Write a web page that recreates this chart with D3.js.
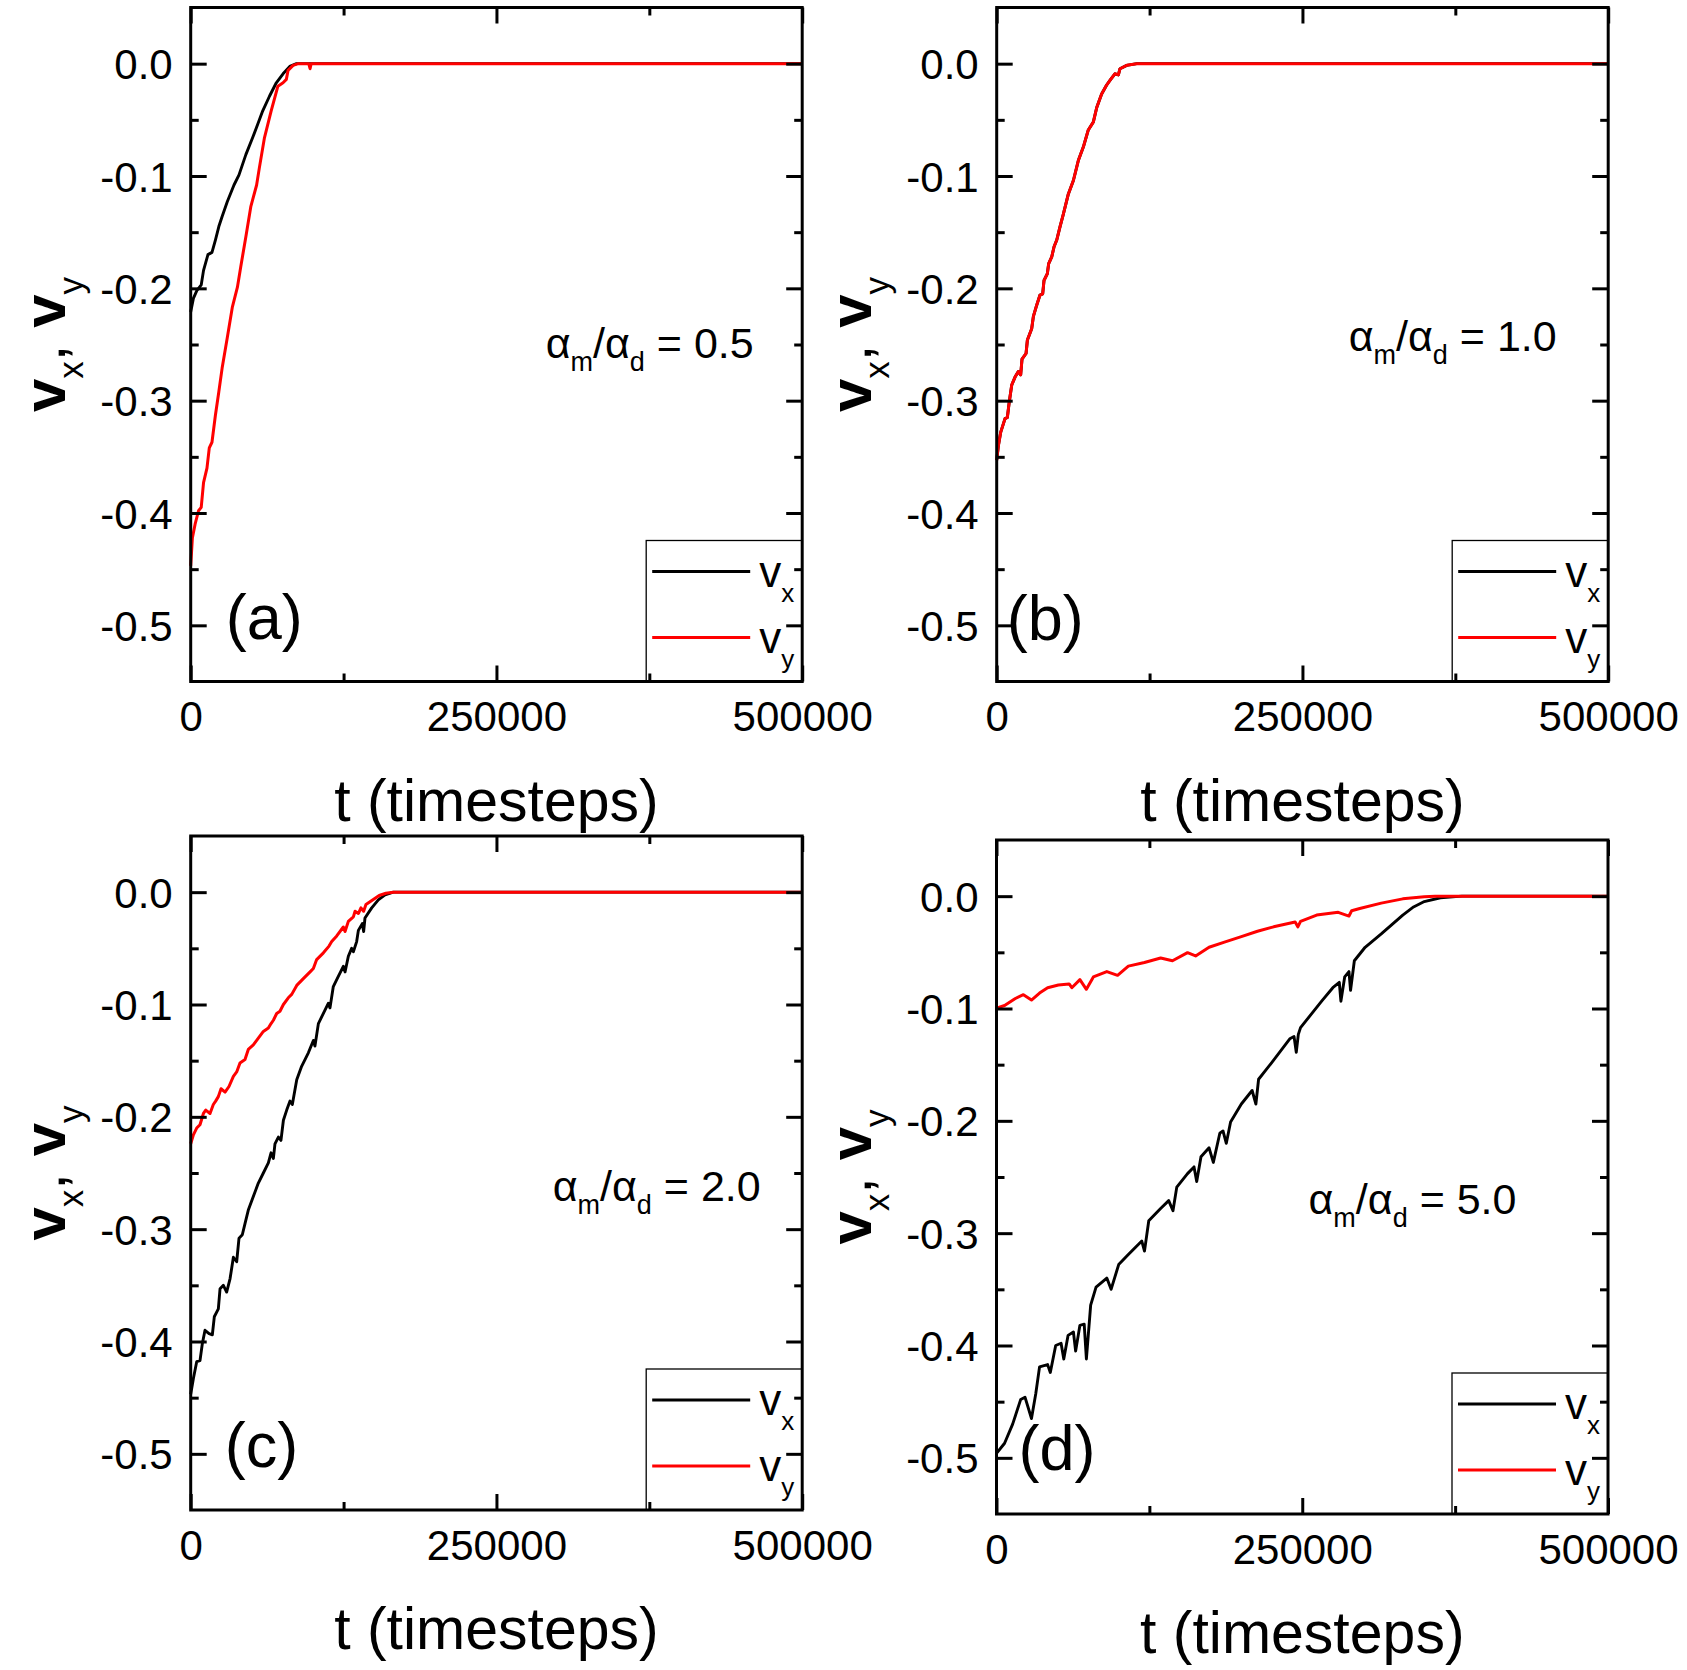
<!DOCTYPE html>
<html>
<head>
<meta charset="utf-8">
<script src="https://cdn.jsdelivr.net/npm/d3@7"></script>
<style>
  body { margin: 0; background: #fff; }
  text { font-family: "Liberation Sans", Arial, sans-serif; fill: #000; }
</style>
</head>
<body>
<div class="canvas"></div>
<script>
// tick values (t in thousands of timesteps)
const tMajor = [0, 250, 500];
const tMinor = [125, 375];
const vMajor = [0, -0.1, -0.2, -0.3, -0.4, -0.5];
const vMinor = [-0.05, -0.15, -0.25, -0.35, -0.45];
const panelLabels = ['(a)', '(b)', '(c)', '(d)'];
const ratios = ['0.5', '1.0', '2.0', '5.0'];

// series: [t (x1000), v]
const aVx = [[0,-0.221],[2.2,-0.209],[5,-0.202],[8.6,-0.197],[10.5,-0.184],[14.1,-0.17],[17.4,-0.168],[20.2,-0.157],[23,-0.145],[25.7,-0.136],[29.9,-0.123],[35.4,-0.108],[39.5,-0.099],[45.1,-0.081],[50.6,-0.066],[54.8,-0.054],[58.9,-0.042],[64.4,-0.029],[70,-0.017],[75.5,-0.009],[81,-0.0024],[86.5,0],[500,0]];
const aVy = [[0,-0.447],[1.4,-0.422],[3.6,-0.41],[6.4,-0.398],[8.6,-0.395],[10.5,-0.373],[13.3,-0.36],[15.2,-0.342],[17.4,-0.337],[20.2,-0.313],[23,-0.292],[25.7,-0.271],[29.9,-0.244],[34,-0.217],[38.2,-0.199],[40.9,-0.181],[45.1,-0.154],[49.2,-0.127],[53.9,-0.108],[56.1,-0.093],[60.3,-0.066],[65.8,-0.042],[71.3,-0.02],[75.5,-0.017],[78.2,-0.014],[79.6,-0.006],[83.7,-0.0015],[88,0],[96.5,0],[97.6,-0.0045],[98.5,0],[500,0]];
const bVy = [[0,-0.353],[1.4,-0.34],[3.3,-0.328],[6.8,-0.316],[8.7,-0.315],[10.4,-0.3],[12.3,-0.286],[15,-0.279],[17.7,-0.274],[19.6,-0.277],[20.7,-0.263],[24,-0.258],[25.1,-0.246],[28.6,-0.236],[30,-0.225],[32.7,-0.215],[35.4,-0.206],[37.6,-0.205],[38.7,-0.193],[41.4,-0.187],[42.5,-0.178],[45,-0.172],[46.9,-0.163],[49.1,-0.157],[51.8,-0.145],[54.5,-0.134],[58.6,-0.116],[62.7,-0.104],[66.8,-0.086],[70.9,-0.074],[74.9,-0.059],[79,-0.052],[81.8,-0.039],[85.8,-0.027],[89.9,-0.019],[93.2,-0.014],[96.7,-0.009],[99.5,-0.01],[100.8,-0.0045],[106.3,-0.0015],[114.5,0],[500,0]];
const bVx = bVy; // vx lies exactly under vy in (b)
const cVx = [[0,-0.447],[2.2,-0.433],[4.9,-0.418],[7.6,-0.417],[9.5,-0.402],[11.7,-0.39],[15,-0.393],[17.7,-0.394],[19.3,-0.378],[22.6,-0.371],[24,-0.353],[26.7,-0.35],[29.4,-0.356],[32.2,-0.344],[34.9,-0.325],[37.6,-0.329],[39.5,-0.308],[42.2,-0.305],[44.4,-0.295],[47.1,-0.283],[51.2,-0.271],[55.3,-0.259],[59.4,-0.25],[63.5,-0.241],[65.7,-0.232],[67.6,-0.237],[68.9,-0.224],[71.7,-0.218],[73.8,-0.221],[75.8,-0.203],[78.5,-0.194],[81.2,-0.186],[83.1,-0.189],[86.7,-0.167],[90.7,-0.155],[96.2,-0.143],[100.3,-0.132],[101.6,-0.137],[104.4,-0.117],[109.8,-0.105],[112.5,-0.099],[113.9,-0.103],[116.6,-0.084],[120.7,-0.075],[124.8,-0.066],[126.2,-0.071],[128.9,-0.057],[131.6,-0.05],[133,-0.053],[135.7,-0.044],[137.1,-0.034],[140.3,-0.028],[141.4,-0.035],[142.5,-0.023],[148,-0.014],[153.4,-0.0068],[158.9,-0.0024],[165.7,0],[500,0]];
const cVy = [[0,-0.224],[2.2,-0.216],[4.9,-0.21],[7.6,-0.207],[10.4,-0.197],[12.3,-0.194],[15.8,-0.197],[18.5,-0.189],[20.4,-0.186],[22.6,-0.182],[24.8,-0.175],[28.1,-0.178],[31.3,-0.173],[34.9,-0.164],[37.6,-0.16],[40.3,-0.152],[44.4,-0.149],[47.1,-0.14],[51.2,-0.136],[55.3,-0.13],[59.4,-0.124],[63.5,-0.121],[65.7,-0.117],[67.6,-0.114],[70.3,-0.108],[73,-0.106],[75.8,-0.1],[79.8,-0.094],[82.6,-0.091],[86.7,-0.083],[92.1,-0.077],[97.6,-0.071],[100.3,-0.068],[103,-0.06],[108.5,-0.054],[113.1,-0.048],[115.3,-0.044],[119.4,-0.039],[124.8,-0.031],[126.2,-0.035],[128.9,-0.026],[133,-0.022],[134.4,-0.017],[137.1,-0.019],[139.2,-0.014],[141.4,-0.017],[143.3,-0.011],[148.7,-0.007],[154.1,-0.003],[159.6,-0.001],[165.7,0],[500,0]];
const dVx = [[0,-0.496],[6.6,-0.487],[13.2,-0.47],[19.8,-0.448],[23.3,-0.446],[28.6,-0.465],[32.1,-0.443],[35.2,-0.419],[41.8,-0.417],[44,-0.424],[48.4,-0.4],[52.8,-0.398],[55,-0.412],[58.5,-0.391],[62.9,-0.388],[64.7,-0.405],[68.2,-0.382],[71.7,-0.381],[73.5,-0.412],[77,-0.364],[81.4,-0.348],[90.2,-0.34],[93.7,-0.35],[99.9,-0.328],[107.8,-0.319],[118.8,-0.307],[121,-0.316],[124.5,-0.289],[134.2,-0.278],[140.8,-0.271],[144.3,-0.28],[147.4,-0.259],[156.2,-0.247],[161.5,-0.241],[163.7,-0.254],[167.2,-0.232],[173.8,-0.224],[177.3,-0.237],[182.6,-0.211],[185.2,-0.209],[187.9,-0.22],[191.4,-0.201],[200.2,-0.185],[209,-0.173],[212.1,-0.185],[214.3,-0.163],[226.6,-0.146],[239.8,-0.127],[243.3,-0.125],[245.1,-0.139],[246.8,-0.123],[248.6,-0.117],[257.4,-0.105],[266.2,-0.093],[275,-0.0815],[280.3,-0.0767],[281.6,-0.0935],[284.7,-0.0719],[288.2,-0.0671],[289.5,-0.0839],[292.6,-0.0575],[301.4,-0.0455],[314.6,-0.0336],[332.2,-0.0168],[341,-0.0096],[349.8,-0.0048],[363,-0.0014],[380.6,0],[500,0]];
const dVy = [[0,-0.0997],[6.6,-0.0973],[15.4,-0.0911],[22,-0.0877],[28.6,-0.0925],[35.2,-0.0863],[41.8,-0.0815],[50.6,-0.0791],[59.4,-0.0781],[61.6,-0.0815],[68.2,-0.0743],[73.5,-0.0829],[79.2,-0.0719],[90.2,-0.0671],[99,-0.0705],[107.8,-0.0623],[121,-0.059],[134.2,-0.0551],[143.9,-0.0575],[156.2,-0.0503],[162.8,-0.0532],[173.8,-0.0455],[187,-0.0407],[200.2,-0.036],[213.4,-0.0312],[226.6,-0.0273],[244.2,-0.023],[246.4,-0.0273],[248.6,-0.0225],[261.8,-0.0168],[279.4,-0.0144],[288.2,-0.0177],[290.4,-0.013],[297,-0.011],[314.6,-0.0062],[332.2,-0.0024],[349.8,-0.0005],[358.6,0],[500,0]];

const seriesX = [aVx, bVx, cVx, dVx];
const seriesY = [aVy, bVy, cVy, dVy];

// layout
const W = 1687, H = 1670;
const pw = 611.5, ph = 674;
const panels = [
  {left: 190.7, top: 7.5, label: [35, 631], note: [355, 350]},
  {left: 996.7, top: 7.5, label: [10, 632], note: [352, 343]},
  {left: 190.7, top: 836, label: [34, 631], note: [362, 365]},
  {left: 996.5, top: 840, label: [22, 630], note: [312, 374]}
];

const svg = d3.select('.canvas')
  .append('svg')
  .attr('width', W)
  .attr('height', H);

const x = d3.scaleLinear().domain([0, 500]).range([0, pw]);
const y = d3.scaleLinear().domain([-0.55, 0.05]).range([ph, 0]);

const line = d3.line()
  .x(d => x(d[0]))
  .y(d => y(d[1]));

panels.forEach((p, i) => {
  const g = svg.append('g').attr('transform', `translate(${p.left},${p.top})`);

  // data
  g.append('path').datum(seriesX[i])
    .attr('d', line).attr('fill', 'none')
    .attr('stroke', '#000').attr('stroke-width', 2.9).attr('stroke-linejoin', 'round');
  g.append('path').datum(seriesY[i])
    .attr('d', line).attr('fill', 'none')
    .attr('stroke', '#ff0000').attr('stroke-width', 3).attr('stroke-linejoin', 'round');

  // legend
  const lg = g.append('g').attr('transform', `translate(${pw - 156},${ph - 141})`);
  lg.append('rect').attr('width', 156).attr('height', 141)
    .attr('fill', '#fff').attr('stroke', '#000').attr('stroke-width', 1.3);
  [['#000', 'x', 31], ['#ff0000', 'y', 97]].forEach(([c, sub, ly]) => {
    lg.append('line').attr('x1', 6).attr('x2', 104).attr('y1', ly).attr('y2', ly)
      .attr('stroke', c).attr('stroke-width', 3.2);
    const t = lg.append('text').attr('x', 113).attr('y', ly + 15).attr('font-size', 44);
    t.append('tspan').text('v');
    t.append('tspan').attr('font-size', 26).attr('dy', 15).text(sub);
  });

  // axes: inward ticks on all four sides
  const major = 16, minor = 8;
  const bottom = g.append('g').attr('transform', `translate(0,${ph})`)
    .call(d3.axisBottom(x).tickValues(tMajor).tickSize(-major).tickPadding(20)
      .tickFormat(d => String(d * 1000)));
  g.append('g').attr('transform', `translate(0,${ph})`)
    .call(d3.axisBottom(x).tickValues(tMinor).tickSize(-minor).tickFormat(''));
  g.append('g').call(d3.axisTop(x).tickValues(tMajor).tickSize(-major).tickFormat(''));
  g.append('g').call(d3.axisTop(x).tickValues(tMinor).tickSize(-minor).tickFormat(''));
  const left = g.append('g')
    .call(d3.axisLeft(y).tickValues(vMajor).tickSize(-major).tickPadding(18)
      .tickFormat(d => d.toFixed(1)));
  g.append('g').call(d3.axisLeft(y).tickValues(vMinor).tickSize(-minor).tickFormat(''));
  g.append('g').attr('transform', `translate(${pw},0)`)
    .call(d3.axisRight(y).tickValues(vMajor).tickSize(-major).tickFormat(''));
  g.append('g').attr('transform', `translate(${pw},0)`)
    .call(d3.axisRight(y).tickValues(vMinor).tickSize(-minor).tickFormat(''));

  g.selectAll('.domain').remove();
  g.selectAll('.tick line').attr('stroke', '#000').attr('stroke-width', 3);
  g.selectAll('.tick text').attr('font-size', 42).attr('font-family', '"Liberation Sans", Arial, sans-serif').attr('fill', '#000');
  bottom.selectAll('.tick text').attr('dy', '0.71em');
  left.selectAll('.tick text').attr('dy', '0.36em');

  // frame
  g.append('rect').attr('width', pw).attr('height', ph)
    .attr('fill', 'none').attr('stroke', '#000').attr('stroke-width', 3);

  // axis titles
  g.append('text').attr('x', pw / 2).attr('y', ph + 139)
    .attr('text-anchor', 'middle').attr('font-size', 59).text('t (timesteps)');
  const yt = g.append('text').attr('transform', `translate(-126,${ph / 2}) rotate(-90)`)
    .attr('text-anchor', 'middle').attr('font-size', 60);
  yt.append('tspan').attr('font-weight', 'bold').text('v');
  yt.append('tspan').attr('font-size', 35).attr('dy', 18).text('x');
  yt.append('tspan').attr('dy', -18).text(', ');
  yt.append('tspan').attr('font-weight', 'bold').text('v');
  yt.append('tspan').attr('font-size', 35).attr('dy', 18).text('y');

  // panel label and ratio note
  g.append('text').attr('x', p.label[0]).attr('y', p.label[1])
    .attr('font-size', 63).text(panelLabels[i]);
  const nt = g.append('text').attr('x', p.note[0]).attr('y', p.note[1]).attr('font-size', 43);
  nt.append('tspan').text('α');
  nt.append('tspan').attr('font-size', 27).attr('dy', 13).text('m');
  nt.append('tspan').attr('dy', -13).text('/α');
  nt.append('tspan').attr('font-size', 27).attr('dy', 13).text('d');
  nt.append('tspan').attr('dy', -13).text(' = ' + ratios[i]);
});
</script>
</body>
</html>
